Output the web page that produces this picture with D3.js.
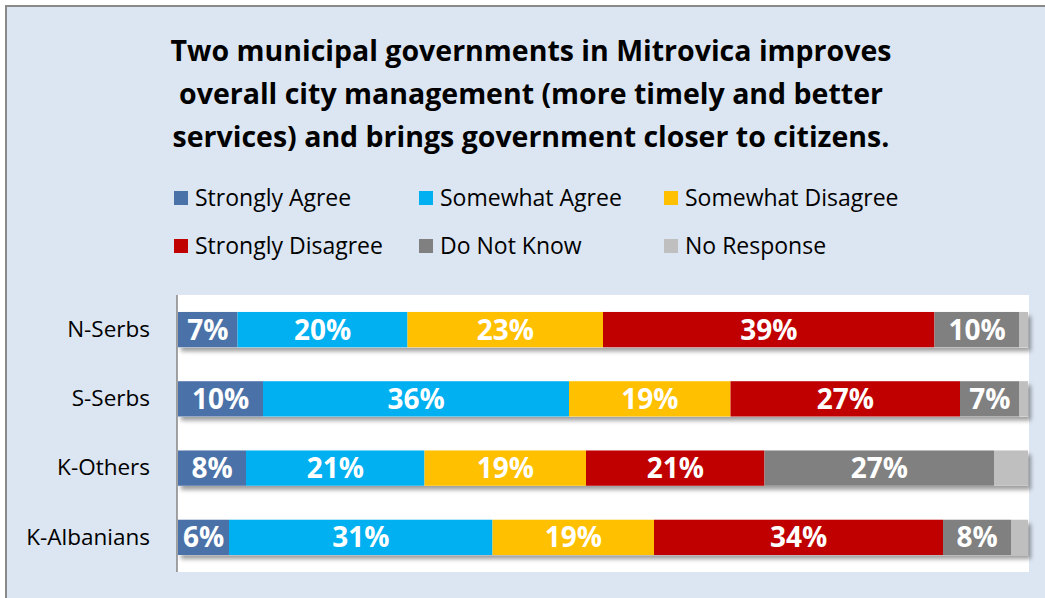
<!DOCTYPE html>
<html>
<head>
<meta charset="utf-8">
<script src="https://cdn.jsdelivr.net/npm/d3@7"></script>
<style>
  html, body { margin: 0; padding: 0; background: #ffffff; }
  svg { display: block; }
  text { font-family: "Open Sans", Lato, sans-serif; }
</style>
</head>
<body>
<svg id="chart" width="1045" height="598"></svg>
<script>
// Survey responses by group (percent of respondents)
const groups = ["N-Serbs", "S-Serbs", "K-Others", "K-Albanians"];
const seriesNames = ["Strongly Agree", "Somewhat Agree", "Somewhat Disagree", "Strongly Disagree", "Do Not Know", "No Response"];
const seriesColors = ["#4A72A8", "#00B0F0", "#FFC000", "#C00000", "#808080", "#BFBFBF"];
const stronglyAgree    = [7, 10, 8, 6];
const somewhatAgree    = [20, 36, 21, 31];
const somewhatDisagree = [23, 19, 19, 19];
const stronglyDisagree = [39, 27, 21, 34];
const doNotKnow        = [10, 7, 27, 8];
const noResponse       = [1, 1, 4, 2];
const labelledSeries   = [true, true, true, true, true, false];
const titleLines = [
  "Two municipal governments in Mitrovica improves",
  "overall city management (more timely and better",
  "services) and brings government closer to citizens."
];

const seriesValues = [stronglyAgree, somewhatAgree, somewhatDisagree, stronglyDisagree, doNotKnow, noResponse];
const rows = groups.map((g, i) => {
  const r = { group: g };
  seriesNames.forEach((s, k) => { r[s] = seriesValues[k][i]; });
  return r;
});
const stacked = d3.stack().keys(seriesNames)(rows);

const svg = d3.select("#chart");
const W = 1045, H = 598;

// chart area background and frame
svg.append("rect").attr("x", 6).attr("y", 6).attr("width", W + 10).attr("height", H + 10)
  .attr("fill", "#DCE6F2").attr("stroke", "#8A8A8A").attr("stroke-width", 2);

// drop shadow used on bars
const defs = svg.append("defs");
const f = defs.append("filter").attr("id", "shadow")
  .attr("x", "-5%").attr("y", "-20%").attr("width", "115%").attr("height", "160%");
f.append("feDropShadow").attr("dx", 3).attr("dy", 4).attr("stdDeviation", 2.2)
  .attr("flood-color", "#000").attr("flood-opacity", 0.38);

// title
svg.append("g").selectAll("text").data(titleLines).join("text")
  .attr("x", 531).attr("y", (d, i) => 60.5 + i * 43)
  .attr("text-anchor", "middle")
  .attr("font-size", 28.5).attr("font-weight", 700).attr("fill", "#000")
  .text(d => d);

// legend, 3 columns x 2 rows
const legendX = [174, 419, 664], legendY = [198, 246];
const legend = svg.append("g").selectAll("g").data(seriesNames).join("g")
  .attr("transform", (d, i) => `translate(${legendX[i % 3]},${legendY[Math.floor(i / 3)]})`);
legend.append("rect").attr("x", 0).attr("y", -7).attr("width", 14).attr("height", 14)
  .attr("fill", (d, i) => seriesColors[i]);
legend.append("text").attr("x", 21).attr("y", 0).attr("dy", "0.35em")
  .attr("font-size", 23).attr("fill", "#000").text(d => d);

// plot area
const plot = { left: 177, right: 1029, top: 295, bottom: 572 };
svg.append("rect").attr("x", plot.left).attr("y", plot.top)
  .attr("width", plot.right - plot.left).attr("height", plot.bottom - plot.top).attr("fill", "#fff");

const x = d3.scaleLinear().domain([0, 100]).range([plot.left + 1, plot.right - 1]);
const y = d3.scaleBand().domain(groups).range([plot.top, plot.bottom])
  .paddingInner(0.49).paddingOuter(0.245);

const barsG = svg.append("g");
// shadow layer behind the bars (one per row)
barsG.append("g").selectAll("rect").data(rows).join("rect")
  .attr("x", x(0)).attr("y", d => y(d.group))
  .attr("width", x(100) - x(0)).attr("height", y.bandwidth())
  .attr("fill", "#fff").attr("filter", "url(#shadow)");

const layer = barsG.selectAll("g.series").data(stacked).join("g")
  .attr("class", "series").attr("fill", (d, i) => seriesColors[i]);
layer.selectAll("rect").data(d => d).join("rect")
  .attr("x", d => x(d[0])).attr("y", d => y(d.data.group))
  .attr("width", d => x(d[1]) - x(d[0])).attr("height", y.bandwidth());

// value labels
stacked.forEach((s, k) => {
  if (!labelledSeries[k]) return;
  svg.append("g").selectAll("text").data(s).join("text")
    .attr("x", d => (x(d[0]) + x(d[1])) / 2)
    .attr("y", d => y(d.data.group) + y.bandwidth() / 2)
    .attr("dy", "0.36em").attr("text-anchor", "middle")
    .attr("font-size", 28).attr("font-weight", 700).attr("fill", "#fff")
    .text(d => (d[1] - d[0]) + "%");
});

// category axis
const yAxis = svg.append("g").attr("transform", `translate(${plot.left},0)`)
  .call(d3.axisLeft(y).tickSize(0).tickPadding(27));
yAxis.select(".domain").attr("stroke", "#868686").attr("stroke-width", 1.5)
  .attr("d", `M0,${plot.top}V${plot.bottom}`);
yAxis.selectAll("text").attr("font-size", 22.5).attr("fill", "#000")
  .style("font-family", "'Open Sans', Lato, sans-serif");
</script>
</body>
</html>
